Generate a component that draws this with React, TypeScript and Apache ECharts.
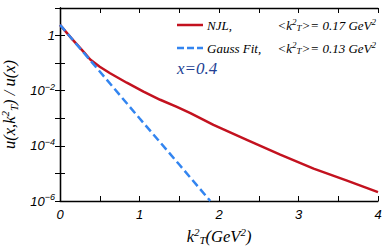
import React, { useEffect, useRef } from "react";
import * as echarts from "echarts";

// NJL curve
const njlK = [0, 0.15, 0.3, 0.38, 0.5, 0.63, 0.84, 1.05, 1.26, 1.47, 1.64, 1.93, 2.35, 2.77, 3.19, 3.61, 4.0];
const njlU = [2.45, 0.76, 0.25, 0.135, 0.074, 0.043, 0.0195, 0.0093, 0.0047, 0.0026, 0.00155, 5.8e-4, 1.66e-4, 4.8e-5, 1.5e-5, 5.5e-6, 2.1e-6];

// Gauss fit
const gaussK = [0, 0.5, 1.0, 1.5, 1.89];
const gaussU = [2.45, 0.05, 1.0e-3, 2.1e-5, 1.0e-6];

const xTicks = [0, 1, 2, 3, 4];
const yLabelExps = [0, -2, -4, -6];

const legendRows = [
  { name: "NJL,", avg: "0.17" },
  { name: "Gauss Fit,", avg: "0.13" },
];
const xValueLabel = "x=0.4";

const RED = "#c3121f";
const BLUE = "#3385f0";
const SERIF = "'Liberation Serif', 'DejaVu Serif', serif";
const SANS = "'Liberation Sans', Arial, sans-serif";

export default function App() {
  const ref = useRef<HTMLDivElement>(null);
  useEffect(() => {
    if (!ref.current) return;
    const chart = echarts.init(ref.current, null, { renderer: "svg" });
    const L = 60, R = 378, T = 8, B = 201;
    const axisLine = { show: true, lineStyle: { color: "#000", width: 1.3 } };
    const tick = { show: true, inside: true, length: 5, lineStyle: { color: "#000", width: 1 } };
    const supRich = {
      n: { fontFamily: SANS, fontStyle: "italic", fontSize: 13, color: "#000" },
      s: { fontFamily: SANS, fontStyle: "italic", fontSize: 9, color: "#000", padding: [0, 0, 8, 0] },
    };
    const legendRich = {
      t: { fontFamily: SERIF, fontStyle: "italic", fontSize: 13, color: "#000" },
      s: { fontFamily: SERIF, fontStyle: "italic", fontSize: 9, color: "#000", padding: [0, 0, 7, 0] },
      b: { fontFamily: SERIF, fontStyle: "italic", fontSize: 9, color: "#000", padding: [6, 0, 0, 0] },
    };
    const graphics: any[] = [];
    legendRows.forEach((row, i) => {
      const y = 25 + i * 23;
      graphics.push({
        type: "line",
        shape: { x1: 177, y1: y, x2: 203, y2: y },
        style: { stroke: i === 0 ? RED : BLUE, lineWidth: 2.5, lineDash: i === 0 ? null : [7, 3] },
      });
      graphics.push({
        type: "text",
        x: 207, y,
        style: {
          text: `{t|${row.name}}`,
          rich: legendRich,
          verticalAlign: "middle",
        },
      });
      graphics.push({
        type: "text",
        x: 376, y,
        style: {
          text: `{t|<k}{s|2}{b|T}{t|>= ${row.avg} GeV}{s|2}`,
          rich: legendRich,
          align: "right",
          verticalAlign: "middle",
        },
      });
    });
    graphics.push({
      type: "text",
      x: 177, y: 68,
      style: {
        text: xValueLabel,
        fill: "#233f94",
        font: `italic 17px ${SERIF}`,
        verticalAlign: "middle",
      },
    });

    const nameRich = {
      i: { fontFamily: SERIF, fontStyle: "italic", fontSize: 16.5, color: "#000" },
      s: { fontFamily: SERIF, fontStyle: "italic", fontSize: 11, color: "#000", padding: [0, 0, 9, 0] },
      b: { fontFamily: SERIF, fontStyle: "italic", fontSize: 11, color: "#000", padding: [8, 0, 0, 0] },
    };

    chart.setOption({
      animation: false,
      grid: { left: L, right: 390 - R, top: T, bottom: 247 - B, outerBoundsMode: "none", containLabel: false },
      xAxis: [
        {
          type: "value", min: 0, max: 4, interval: 0.5, position: "bottom",
          axisLine, axisTick: tick, splitLine: { show: false },
          axisLabel: {
            margin: 7,
            fontFamily: SANS, fontStyle: "italic", fontSize: 13, color: "#000",
            formatter: (v: number) => (xTicks.includes(v) ? String(v) : ""),
          },
          name: "{i|k}{s|2}{b|T}{i|(GeV}{s|2}{i|)}",
          nameLocation: "middle",
          nameGap: 25,
          nameTextStyle: { rich: nameRich },
        },
        {
          type: "value", min: 0, max: 4, interval: 0.5, position: "top",
          axisLine, axisTick: tick, axisLabel: { show: false }, splitLine: { show: false },
        },
      ],
      yAxis: [
        {
          type: "log", logBase: 10, min: 1e-6, max: 10, interval: 1, position: "left",
          axisLine, axisTick: tick, splitLine: { show: false }, minorTick: { show: false },
          axisLabel: {
            margin: 5,
            formatter: (v: number) => {
              const e = Math.round(Math.log10(v));
              if (!yLabelExps.includes(e)) return "";
              if (e === 0) return "{n|1}";
              return `{n|10}{s|${e < 0 ? "\u2212" : ""}${Math.abs(e)}}`;
            },
            rich: supRich,
          },
          name: "{i|u(x,k}{s|2}{b|T}{i|) / u(x)}",
          nameLocation: "middle",
          nameRotate: 90,
          nameGap: 38,
          nameTextStyle: { rich: nameRich },
        },
        {
          type: "log", logBase: 10, min: 1e-6, max: 10, interval: 1, position: "right",
          axisLine, axisTick: tick, axisLabel: { show: false }, splitLine: { show: false },
        },
      ],
      series: [
        {
          type: "line", name: "NJL", smooth: false, showSymbol: false,
          data: njlK.map((k, i) => [k, njlU[i]]),
          lineStyle: { color: RED, width: 2.5, join: "round" },
          z: 2,
        },
        {
          type: "line", name: "Gauss Fit", showSymbol: false,
          data: gaussK.map((k, i) => [k, gaussU[i]]),
          lineStyle: { color: BLUE, width: 2.5, type: [8, 4] },
          z: 3,
        },
      ],
      graphic: graphics,
    });
    return () => chart.dispose();
  }, []);
  return (
    <div
      ref={ref}
      style={{ position: "fixed", left: 0, top: 0, width: 390, height: 247, background: "#fff" }}
    />
  );
}
